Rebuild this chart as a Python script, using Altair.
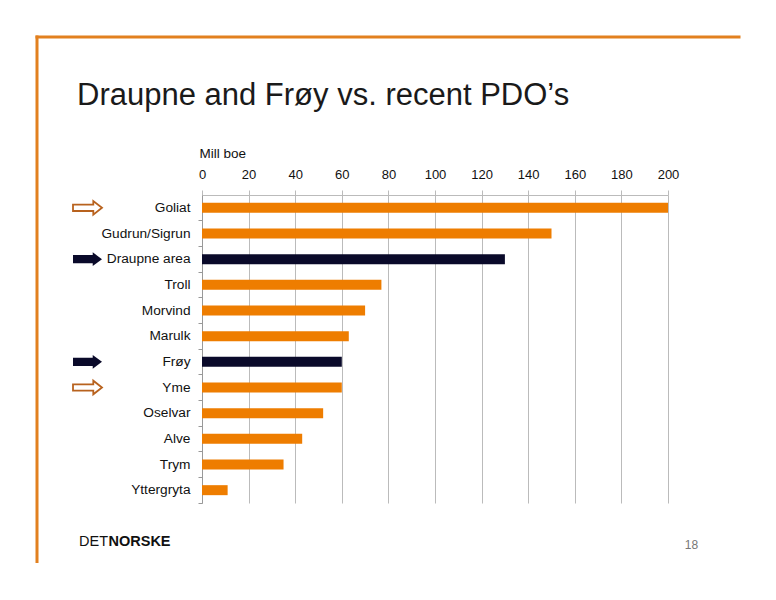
import altair as alt
import pandas as pd

# field sizes, mill boe
fields = ["Goliat", "Gudrun/Sigrun", "Draupne area", "Troll", "Morvind", "Marulk",
          "Frøy", "Yme", "Oselvar", "Alve", "Trym", "Yttergryta"]
mill_boe = [200, 150, 130, 77, 70, 63, 60, 60, 52, 43, 35, 11]
operator = ["other", "other", "detnor", "other", "other", "other",
            "detnor", "other", "other", "other", "other", "other"]
arrow = ["outline", "", "filled", "", "", "", "filled", "outline", "", "", "", ""]

title_text = "Draupne and Frøy vs. recent PDO’s"
page_no = "18"

ORANGE = "#EE7D00"
NAVY = "#0A0A2A"
BORDER = "#E2801F"
FONT = "Liberation Sans"

df = pd.DataFrame({"field": fields, "mill_boe": mill_boe,
                   "operator": operator, "arrow": arrow})

y_enc = alt.Y(
    "field:N", sort=fields, title=None,
    scale=alt.Scale(paddingInner=0, paddingOuter=0),
    axis=alt.Axis(bandPosition=1, tickSize=4, labelPadding=8, labelFontSize=13.7,
                  labelColor="#111", domainColor="#999", tickColor="#999", grid=False),
)

bars = (
    alt.Chart(df)
    .mark_bar(size=10)
    .encode(
        x=alt.X("mill_boe:Q", title="Mill boe",
                scale=alt.Scale(domain=[0, 200], nice=False),
                axis=alt.Axis(orient="top", values=list(range(0, 201, 20)), tickSize=5,
                              labelPadding=9, labelFontSize=13, labelColor="#111",
                              labelFlush=False, labelOverlap=False,
                              domainColor="#bbb", tickColor="#bbb", gridColor="#bbb",
                              titleX=-3, titleY=-38, titleAlign="left",
                              titleBaseline="alphabetic", titleFontWeight="normal",
                              titleFontSize=13.5, titleColor="#111")),
        y=y_enc,
        color=alt.Color("operator:N", legend=None,
                        scale=alt.Scale(domain=["other", "detnor"], range=[ORANGE, NAVY])),
    )
)

arrow_filled = (
    alt.Chart(df)
    .transform_filter(alt.datum.arrow == "filled")
    .mark_point(shape="M -1 -0.28 L 0.36 -0.28 L 0.36 -0.47 L 1 0 L 0.36 0.47 L 0.36 0.28 L -1 0.28 Z",
                size=841, filled=True, color=NAVY, opacity=1)
    .encode(x=alt.value(-114.5), y=y_enc)
)

arrow_outline = (
    alt.Chart(df)
    .transform_filter(alt.datum.arrow == "outline")
    .mark_point(shape="M -1 -0.22 L 0.4 -0.22 L 0.4 -0.47 L 1 0 L 0.4 0.47 L 0.4 0.22 L -1 0.22 Z",
                size=841, filled=False, stroke="#B8621E", strokeWidth=1.8, fill="white",
                opacity=1)
    .encode(x=alt.value(-114.5), y=y_enc)
)

one = pd.DataFrame({"k": [0]})

border_v = alt.Chart(one).mark_rule(color=BORDER, strokeWidth=3).encode(
    x=alt.value(-165), y=alt.value(-159.5), y2=alt.value(368))
border_h = alt.Chart(one).mark_rule(color=BORDER, strokeWidth=3).encode(
    x=alt.value(-166.5), x2=alt.value(538.5), y=alt.value(-158))

title = alt.Chart(one).mark_text(
    text=title_text, font=FONT, fontSize=31, color="#1a1a1a", align="left",
    baseline="alphabetic").encode(x=alt.value(-125), y=alt.value(-90))

logo_det = alt.Chart(one).mark_text(
    text="DET", font=FONT, fontSize=14.5, color="#111", align="left",
    baseline="middle").encode(x=alt.value(-123), y=alt.value(347))
logo_norske = alt.Chart(one).mark_text(
    text="NORSKE", font=FONT, fontSize=14.5, fontWeight="bold", color="#111",
    align="left", baseline="middle").encode(x=alt.value(-93.5), y=alt.value(347))

page = alt.Chart(one).mark_text(
    text=page_no, font=FONT, fontSize=12, color="#777", align="center",
    baseline="middle").encode(x=alt.value(489.5), y=alt.value(350))

chart = (
    alt.layer(bars, arrow_filled, arrow_outline, border_v, border_h,
              title, logo_det, logo_norske, page)
    .properties(
        width=466, height=308,
        autosize=alt.AutoSizeParams(type="none"),
        padding={"left": 194, "top": 187, "right": 100, "bottom": 89},
    )
    .configure_view(stroke=None)
    .configure_axis(labelFont=FONT, titleFont=FONT)
)

chart.save("out.html", embed_options={"renderer": "svg", "actions": False})
